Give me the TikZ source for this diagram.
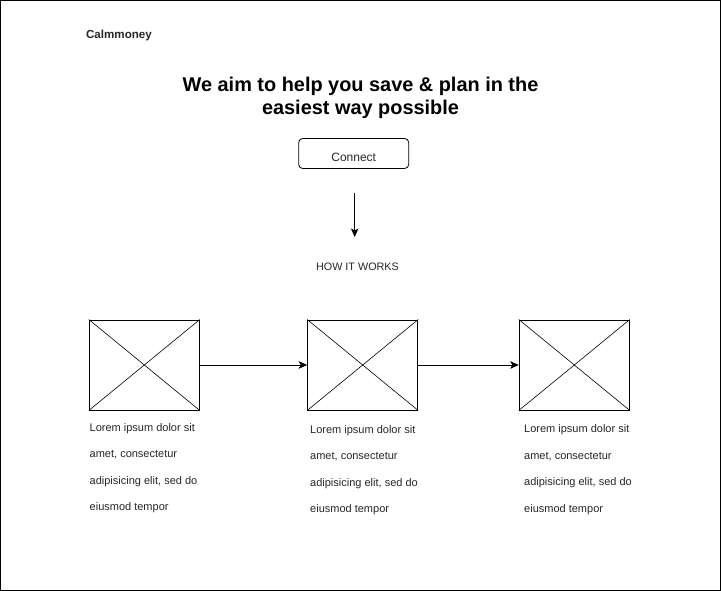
\documentclass[tikz,border=0pt]{standalone}
\usepackage{fontspec}
\setmainfont{Liberation Sans}
\usetikzlibrary{arrows.meta}
\begin{document}
\begin{tikzpicture}[x=1pt,y=-1pt,
  imgbox/.style={draw, line width=1pt, minimum width=110pt, minimum height=90pt, inner sep=0pt},
  cross/.style={line width=0.6pt},
  flow/.style={line width=1pt, -{Stealth[length=8.5pt,width=7.5pt,inset=2pt]}},
  body/.style={anchor=base west, inner sep=0pt, font=\fontsize{11}{13}\selectfont, text=black!85},
  btn/.style={draw, rounded corners=4pt, line width=0.8pt, minimum width=110pt, minimum height=30pt, inner sep=0pt}
]
\useasboundingbox (0,0) rectangle (721,591);
\draw[line width=1.3pt] (0.65,0.65) rectangle (720.35,590.35);

\node[anchor=base, inner sep=0pt, font=\bfseries\fontsize{11.6}{14}\selectfont, text=black!85] (brand) at (119,38.5) {Calmmoney};

\node[anchor=base, inner sep=0pt, font=\bfseries\fontsize{19.9}{23}\selectfont] (title1) at (360.5,92) {We aim to help you save \& plan in the};
\node[anchor=base, inner sep=0pt, font=\bfseries\fontsize{19.9}{23}\selectfont] (title2) at (360.5,115) {easiest way possible};

\node[btn] (connect) at (353.7,153.5) {};
\node[anchor=base, inner sep=0pt, font=\fontsize{12}{14}\selectfont, text=black!85] (connectlbl) at (353.7,161.5) {Connect};

\coordinate (arrtop) at (354.7,193.3);
\coordinate (arrbot) at (354.7,237);
\draw[flow] (arrtop) -- (arrbot);

\node[anchor=base, inner sep=0pt, font=\fontsize{10.8}{13}\selectfont, text=black!85] (how) at (357.5,270) {HOW IT WORKS};

\node[imgbox] (b1) at (144.3,365) {};
\node[imgbox] (b2) at (362.7,365) {};
\node[imgbox] (b3) at (574.3,365) {};
\foreach \b in {b1,b2,b3} {
  \draw[cross] (\b.north west) -- (\b.south east);
  \draw[cross] (\b.south west) -- (\b.north east);
}
\draw[flow] (b1.east) -- (b2.west);
\draw[flow] (b2.east) -- (b3.west);

\node[body] (t11) at (89.5,431) {Lorem ipsum dolor sit};
\node[body] (t12) at (89.5,457.5) {amet, consectetur};
\node[body] (t13) at (89.5,484) {adipisicing elit, sed do};
\node[body] (t14) at (89.5,510.5) {eiusmod tempor};

\node[body] (t21) at (310,433) {Lorem ipsum dolor sit};
\node[body] (t22) at (310,459.5) {amet, consectetur};
\node[body] (t23) at (310,486) {adipisicing elit, sed do};
\node[body] (t24) at (310,512.5) {eiusmod tempor};

\node[body] (t31) at (524,432.5) {Lorem ipsum dolor sit};
\node[body] (t32) at (524,459) {amet, consectetur};
\node[body] (t33) at (524,485.5) {adipisicing elit, sed do};
\node[body] (t34) at (524,512) {eiusmod tempor};
\end{tikzpicture}
\end{document}
